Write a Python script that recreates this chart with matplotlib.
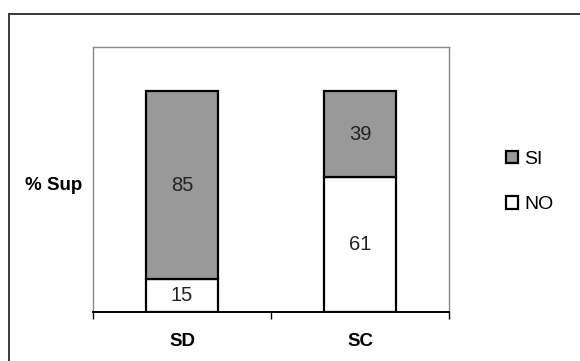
import matplotlib.pyplot as plt
from matplotlib.lines import Line2D

plt.rcParams['font.family'] = ['Liberation Sans', 'DejaVu Sans']

categories = ['SD', 'SC']
no_vals = [15, 61]
si_vals = [85, 39]

W, H = 580, 361
fig = plt.figure(figsize=(W / 100, H / 100), dpi=100)

# outer chart frame (runs off the right and bottom edge)
fig.add_artist(Line2D([8.5 / W, 8.5 / W], [1 - 14 / H, -0.05], transform=fig.transFigure,
                      color='#3a3a3a', lw=1.4))
fig.add_artist(Line2D([8.5 / W, 1.05], [1 - 14 / H, 1 - 14 / H], transform=fig.transFigure,
                      color='#3a3a3a', lw=1.4))

ax = fig.add_axes([93 / W, 1 - 312 / H, (449 - 93) / W, (312 - 47) / H])
x = [0.5, 1.5]
b_no = ax.bar(x, no_vals, width=0.4, color='white', edgecolor='black', linewidth=1.6,
              label='NO', zorder=3)
b_si = ax.bar(x, si_vals, width=0.4, bottom=no_vals, color='#999999', edgecolor='black',
              linewidth=1.6, label='SI', zorder=3)

for i in range(len(categories)):
    ax.text(x[i], no_vals[i] / 2, str(no_vals[i]), ha='center', va='center',
            fontsize=14.5, color='#222222', zorder=4)
    ax.text(x[i], no_vals[i] + si_vals[i] / 2, str(si_vals[i]), ha='center', va='center',
            fontsize=14.5, color='#222222', zorder=4)

ax.set_xlim(0, 2)
ax.set_ylim(0, 120)
ax.set_yticks([])
ax.set_xticks(x)
ax.set_xticklabels(categories, fontsize=13.5, fontweight='bold')
ax.tick_params(axis='x', which='major', length=0, pad=15)
ax.set_xticks([0, 1, 2], minor=True)
ax.tick_params(axis='x', which='minor', length=5, width=1, direction='out', color='black')

for s in ['left', 'top', 'right']:
    ax.spines[s].set_color('#888888')
    ax.spines[s].set_linewidth(1.0)
ax.spines['bottom'].set_color('black')
ax.spines['bottom'].set_linewidth(1.4)

fig.text(25 / W, 1 - 185 / H, '% Sup', fontsize=13.5, fontweight='bold', ha='left', va='center')

fig.legend(handles=[b_si, b_no], labels=['SI', 'NO'], loc='upper left',
           bbox_to_anchor=(506 / W, 1 - 151 / H), frameon=False, fontsize=14,
           handlelength=0.6, handleheight=0.6, handletextpad=0.35,
           labelspacing=1.45, borderpad=0, borderaxespad=0)

fig.savefig('out.png', dpi=100)
